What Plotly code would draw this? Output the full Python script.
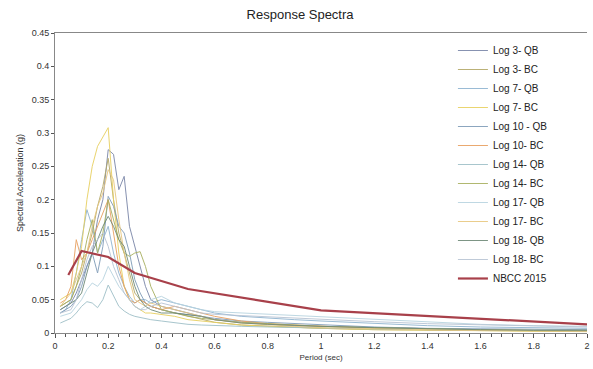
import plotly.graph_objects as go

periods = [0.02, 0.04, 0.06, 0.08, 0.1, 0.12, 0.14, 0.16, 0.18, 0.2, 0.22, 0.24, 0.26, 0.28, 0.3, 0.32,
           0.34, 0.36, 0.4, 0.45, 0.5, 0.55, 0.6, 0.7, 0.8, 0.9, 1.0, 1.2, 1.4, 1.6, 1.8, 2.0]

log3_qb = [0.035, 0.04, 0.045, 0.06, 0.08, 0.1, 0.12, 0.17, 0.2, 0.275, 0.268, 0.215, 0.235, 0.16, 0.13, 0.1,
           0.07, 0.05, 0.04, 0.035, 0.03, 0.025, 0.02, 0.016, 0.013, 0.011, 0.01, 0.008, 0.006, 0.005, 0.004, 0.004]
log3_bc = [0.04, 0.045, 0.05, 0.07, 0.09, 0.12, 0.15, 0.19, 0.22, 0.262, 0.2, 0.15, 0.12, 0.09, 0.06, 0.05,
           0.045, 0.04, 0.035, 0.03, 0.025, 0.02, 0.016, 0.012, 0.01, 0.008, 0.007, 0.005, 0.004, 0.003, 0.003, 0.003]
log7_qb = [0.03, 0.035, 0.05, 0.09, 0.14, 0.185, 0.16, 0.12, 0.14, 0.16, 0.12, 0.09, 0.07, 0.055, 0.045, 0.05,
           0.05, 0.045, 0.05, 0.045, 0.04, 0.035, 0.03, 0.025, 0.022, 0.02, 0.018, 0.014, 0.011, 0.009, 0.008, 0.007]
log7_bc = [0.05, 0.055, 0.06, 0.09, 0.13, 0.2, 0.25, 0.28, 0.295, 0.308, 0.2, 0.12, 0.07, 0.05, 0.04, 0.035,
           0.03, 0.03, 0.028, 0.025, 0.02, 0.018, 0.015, 0.012, 0.01, 0.008, 0.007, 0.005, 0.004, 0.003, 0.003, 0.002]
log10_qb = [0.03, 0.035, 0.04, 0.05, 0.07, 0.1, 0.12, 0.09, 0.13, 0.205, 0.19, 0.16, 0.15, 0.12, 0.08, 0.06,
            0.045, 0.04, 0.035, 0.03, 0.028, 0.025, 0.022, 0.018, 0.016, 0.014, 0.012, 0.009, 0.007, 0.006, 0.005, 0.005]
log10_bc = [0.045, 0.05, 0.07, 0.14, 0.11, 0.12, 0.14, 0.16, 0.18, 0.2, 0.15, 0.1, 0.07, 0.05, 0.045, 0.05,
            0.045, 0.04, 0.035, 0.04, 0.035, 0.03, 0.025, 0.018, 0.014, 0.012, 0.01, 0.007, 0.005, 0.004, 0.004, 0.003]
log14_qb = [0.015, 0.018, 0.022, 0.03, 0.04, 0.047, 0.045, 0.038, 0.05, 0.072, 0.055, 0.04, 0.033, 0.028, 0.025, 0.023,
            0.022, 0.02, 0.018, 0.015, 0.013, 0.012, 0.011, 0.01, 0.009, 0.008, 0.007, 0.006, 0.005, 0.004, 0.004, 0.003]
log14_bc = [0.04, 0.045, 0.05, 0.07, 0.1, 0.14, 0.17, 0.12, 0.15, 0.2, 0.17, 0.14, 0.12, 0.115, 0.12, 0.122,
            0.1, 0.07, 0.035, 0.03, 0.025, 0.022, 0.02, 0.016, 0.014, 0.012, 0.01, 0.008, 0.006, 0.005, 0.004, 0.004]
log17_qb = [0.025, 0.028, 0.03, 0.04, 0.05, 0.065, 0.075, 0.07, 0.08, 0.1, 0.085, 0.07, 0.06, 0.05, 0.04, 0.035,
            0.04, 0.05, 0.055, 0.045, 0.04, 0.035, 0.032, 0.03, 0.028, 0.026, 0.024, 0.02, 0.016, 0.013, 0.011, 0.01]
log17_bc = [0.04, 0.05, 0.06, 0.08, 0.1, 0.12, 0.16, 0.19, 0.21, 0.245, 0.23, 0.17, 0.12, 0.08, 0.05, 0.045,
            0.04, 0.045, 0.04, 0.035, 0.03, 0.025, 0.02, 0.015, 0.012, 0.01, 0.008, 0.006, 0.005, 0.004, 0.003, 0.003]
log18_qb = [0.035, 0.04, 0.045, 0.05, 0.06, 0.09, 0.12, 0.14, 0.16, 0.175, 0.16, 0.14, 0.13, 0.1, 0.07, 0.05,
            0.04, 0.035, 0.03, 0.03, 0.028, 0.025, 0.02, 0.015, 0.013, 0.011, 0.01, 0.008, 0.006, 0.005, 0.004, 0.004]
log18_bc = [0.03, 0.032, 0.035, 0.05, 0.08, 0.11, 0.13, 0.14, 0.15, 0.13, 0.1, 0.08, 0.06, 0.05, 0.04, 0.035,
            0.035, 0.04, 0.045, 0.04, 0.035, 0.03, 0.028, 0.026, 0.024, 0.022, 0.02, 0.017, 0.014, 0.012, 0.01, 0.009]

nbcc_periods = [0.05, 0.1, 0.2, 0.3, 0.5, 1.0, 2.0]
nbcc_values = [0.087, 0.123, 0.114, 0.09, 0.066, 0.034, 0.013]

series_names = ["Log 3- QB", "Log 3- BC", "Log 7- QB", "Log 7- BC", "Log 10 - QB", "Log 10- BC",
                "Log 14- QB", "Log 14- BC", "Log 17- QB", "Log 17- BC", "Log 18- QB", "Log 18- BC"]
series_values = [log3_qb, log3_bc, log7_qb, log7_bc, log10_qb, log10_bc,
                 log14_qb, log14_bc, log17_qb, log17_bc, log18_qb, log18_bc]
series_colors = ["#7a86a8", "#b4a868", "#8fb4d0", "#e8d060", "#7f9cb8", "#e8a060",
                 "#9fc0c8", "#a8b060", "#b8d4e0", "#e8c880", "#6f8a78", "#b8c4d4"]

fig = go.Figure()
for name, vals, col in zip(series_names, series_values, series_colors):
    fig.add_trace(go.Scatter(x=periods, y=vals, mode="lines", name=name, opacity=0.9,
                             line=dict(color=col, width=1.0)))
fig.add_trace(go.Scatter(x=nbcc_periods, y=nbcc_values, mode="lines", name="NBCC 2015",
                         line=dict(color="#a8404a", width=2.2)))

font_family = "Liberation Sans, Arial, sans-serif"
fig.update_layout(
    width=593, height=369,
    margin=dict(l=55, r=3, t=33, b=36),
    paper_bgcolor="white", plot_bgcolor="white",
    font=dict(family=font_family, color="#333333"),
    title=dict(text="Response Spectra", x=0.506, xanchor="center", y=0.962, yanchor="middle",
               font=dict(size=13, color="#222222", family=font_family)),
    showlegend=True,
    legend=dict(x=0.748, y=0.99, xanchor="left", yanchor="top", bgcolor="rgba(0,0,0,0)",
                font=dict(size=10, color="#222222"), itemwidth=30, tracegroupgap=0),
    xaxis=dict(range=[0, 2], dtick=0.2, tick0=0, ticks="outside", ticklen=4, tickcolor="#555555",
               showline=True, linecolor="#888888", linewidth=1, mirror=True, showgrid=False, zeroline=False,
               tickfont=dict(size=9, color="#333333"),
               minor=dict(dtick=0.04, ticks="outside", ticklen=3, tickcolor="#555555"),
               title=dict(text="Period (sec)", font=dict(size=8, color="#333333"), standoff=4)),
    yaxis=dict(range=[0, 0.45], dtick=0.05, ticks="outside", ticklen=3, tickcolor="#555555",
               showline=True, linecolor="#888888", linewidth=1, showgrid=False, zeroline=False,
               tickfont=dict(size=9, color="#333333"), tickformat="~g",
               title=dict(text="Spectral Acceleration (g)", font=dict(size=9, color="#333333"), standoff=6)),
)

fig.write_html("out.html")
